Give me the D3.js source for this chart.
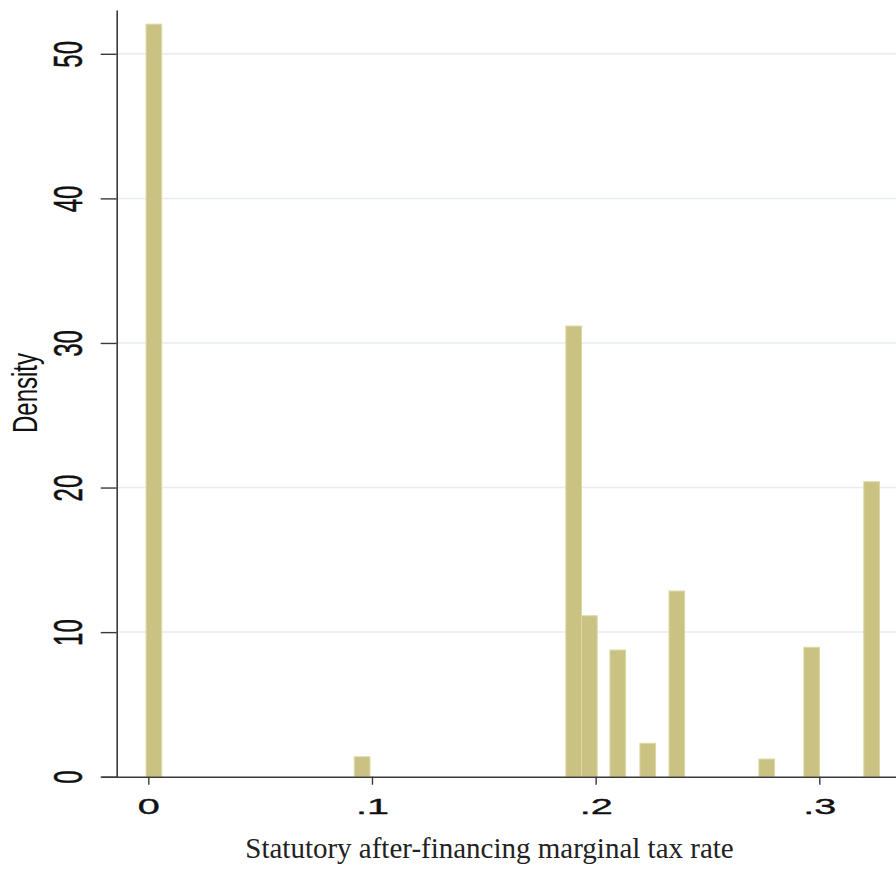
<!DOCTYPE html>
<html>
<head>
<meta charset="utf-8">
<script src="https://cdn.jsdelivr.net/npm/d3@7"></script>
<style>
  html, body { margin:0; padding:0; background:#fff; }
  svg { display:block; }
  .tick text { font-family:"Liberation Sans", Arial, sans-serif; fill:#111; stroke:#111; stroke-width:0.35; }
  .domain, .tick line { stroke:#3a3a3a; }
</style>
</head>
<body>
<svg id="chart"></svg>
<script>
/* Histograma: tasa marginal (después de financiamiento) vs densidad */

// borde izquierdo de cada barra (tasa) y su densidad
const binLeft = [-0.0010, 0.0921, 0.1867, 0.1937, 0.2064, 0.2198, 0.2328, 0.2730, 0.2931, 0.3199];
const density = [52.05, 1.38, 31.17, 11.13, 8.76, 2.31, 12.84, 1.22, 8.95, 20.4];
const binWidth = 0.0070;

const xTicks = [0, 0.1, 0.2, 0.3];
const yTicks = [0, 10, 20, 30, 40, 50];

const xTitle = "Statutory after-financing marginal tax rate";
const yTitle = "Density";

const width = 896, height = 871;
const svg = d3.select("#chart").attr("width", width).attr("height", height);

// escalas: el eje x sale por la derecha (gráfico recortado)
const x = d3.scaleLinear().domain([-0.02115, 0.33429]).range([101, 896]);
const y = d3.scaleLinear().domain([0, 53.03]).range([776.7, 10]);
const x0 = 116.7;

/* líneas de la grilla */
svg.append("g")
  .selectAll("line")
  .data(yTicks.filter(d => d > 0))
  .enter().append("line")
  .attr("x1", x0 + 1).attr("x2", width)
  .attr("y1", d => y(d)).attr("y2", d => y(d))
  .attr("stroke", "#e8ecec")
  .attr("stroke-width", 1.5);

/* barras */
svg.append("g")
  .selectAll("rect")
  .data(binLeft.map((b, i) => ({ b, d: density[i] })))
  .enter().append("rect")
  .attr("x", d => x(d.b))
  .attr("y", d => y(d.d))
  .attr("width", d => x(d.b + binWidth) - x(d.b))
  .attr("height", d => y(0) - y(d.d))
  .attr("fill", "#c9c282")
  .attr("stroke", "#dcd7a6")
  .attr("stroke-width", 1);

const fmt = d => d === 0 ? "0" : d3.format(".1f")(d).replace(/^0/, "");

/* eje y (etiquetas giradas y estiradas como en el original) */
const gy = svg.append("g")
  .attr("transform", `translate(${x0},0)`)
  .call(d3.axisLeft(y).tickValues(yTicks).tickSize(16).tickSizeOuter(0).tickFormat(d => d));
gy.select(".domain").attr("stroke-width", 1.6);
gy.selectAll(".tick line").attr("stroke-width", 1.4);
gy.selectAll(".tick text")
  .attr("x", 0).attr("dy", 0).attr("y", 0)
  .attr("text-anchor", "middle")
  .attr("font-size", 24)
  .attr("transform", "translate(-35,0) scale(1.69,1) rotate(-90)");

/* eje x */
const gx = svg.append("g")
  .attr("transform", `translate(0,${y(0)})`)
  .call(d3.axisBottom(x).tickValues(xTicks).tickSize(8).tickSizeOuter(0).tickFormat(fmt));
gx.select(".domain").attr("stroke-width", 1.6).attr("stroke", "#555");
gx.selectAll(".tick line").attr("stroke-width", 1.4);
gx.selectAll(".tick text")
  .attr("x", 0).attr("y", 0).attr("dy", 0)
  .attr("text-anchor", "middle")
  .attr("font-size", 22)
  .attr("transform", "translate(0,37) scale(1.8,1)");

/* títulos de los ejes */
svg.append("text")
  .attr("transform", "translate(37,393) scale(1.45,1) rotate(-90)")
  .attr("text-anchor", "middle")
  .attr("font-family", "'Liberation Sans', Arial, sans-serif")
  .attr("font-size", 24)
  .attr("fill", "#111")
  .text(yTitle);

svg.append("text")
  .attr("x", 489.5).attr("y", 858)
  .attr("text-anchor", "middle")
  .attr("font-family", "'Liberation Serif', 'Times New Roman', serif")
  .attr("font-size", 29)
  .attr("fill", "#222")
  .text(xTitle);
</script>
</body>
</html>
